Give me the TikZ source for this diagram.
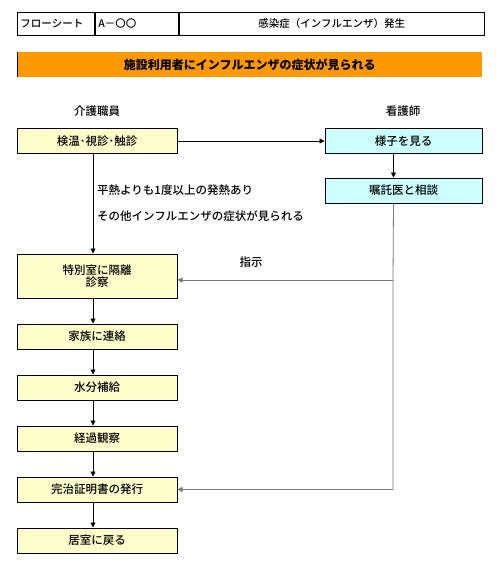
\documentclass[tikz,border=0pt]{standalone}
\usepackage{fontspec}
\setmainfont{Noto Sans CJK JP Medium}
\usetikzlibrary{arrows.meta,positioning}
\definecolor{CareYellow}{RGB}{255,255,204}
\definecolor{NurseCyan}{RGB}{204,255,255}
\definecolor{AlertOrange}{RGB}{255,153,0}
\definecolor{LineGray}{RGB}{120,120,120}
\tikzset{
  cell/.style={draw=black, line width=0.9pt, minimum height=23pt, inner xsep=3pt,
               font=\fontsize{10.5pt}{13pt}\selectfont},
  care/.style={draw=black, fill=CareYellow, line width=1pt, minimum width=160pt,
               minimum height=25pt, align=center, font=\fontsize{11.5pt}{13pt}\selectfont},
  nurse/.style={care, fill=NurseCyan, minimum width=157pt},
  lbl/.style={font=\fontsize{11.5pt}{13pt}\selectfont, inner sep=0pt},
  arr/.style={-{Triangle[length=5pt,width=5pt]}, line width=0.8pt},
  garr/.style={arr, draw=LineGray}
}

\begin{document}
\begin{tikzpicture}[x=1pt,y=-1pt]
\useasboundingbox (0,0) rectangle (500,565);
% header table
\node[cell, text width=71pt, align=left, anchor=north west] (sheet) at (17,12) {フローシート};
\node[cell, text width=77pt, align=left, anchor=north west] (code) at (sheet.north east) {A－〇〇};
\node[cell, text width=299pt, align=center, anchor=north west] (title) at (code.north east) {感染症（インフルエンザ）発生};
% trigger bar
\node[fill=AlertOrange, minimum width=465pt, minimum height=25pt, anchor=north west,
      font=\fontsize{12pt}{14pt}\selectfont\bfseries] (alert) at (17,52) {施設利用者にインフルエンザの症状が見られる};
\draw[line width=1pt] (alert.north west) -- (alert.south west);
% lanes
\node[lbl] (staff) at (97,111) {介護職員};
\node[lbl] (nurses) at (403,111) {看護師};
% care staff side
\node[care] (check) at (97,141) {検温･視診･触診};
\node[care, minimum height=44pt] (isolate) at (97,276) {特別室に隔離\\[-1pt]診察};
\node[care, below=25pt of isolate] (family) {家族に連絡};
\node[care, below=25pt of family] (water) {水分補給};
\node[care, below=25pt of water] (observe) {経過観察};
\node[care, below=25pt of observe] (cert) {完治証明書の発行};
\node[care, below=25pt of cert] (home) {居室に戻る};
% nurse side
\node[nurse] (watch) at (403.5,141) {様子を見る};
\node[nurse] (consult) at (403.5,190.5) {嘱託医と相談};
% conditions
\node[lbl, anchor=west] (fever) at (97,190) {平熱よりも1度以上の発熱あり};
\node[lbl, anchor=west] (other) at (97,216) {その他インフルエンザの症状が見られる};
\node[lbl] (order) at (251,262) {指示};
% connectors
\draw[arr] (check) -- (watch);
\draw[arr] ([xshift=-10pt]watch.south) -- ([xshift=-10pt]consult.north);
\draw[arr] ([xshift=-4pt]check.south) -- ([xshift=-4pt]isolate.north);
\draw[arr] ([xshift=-4pt]isolate.south) -- ([xshift=-4pt]family.north);
\draw[arr] ([xshift=-4pt]family.south) -- ([xshift=-4pt]water.north);
\draw[arr] ([xshift=-4pt]water.south) -- ([xshift=-4pt]observe.north);
\draw[arr] ([xshift=-4pt]observe.south) -- ([xshift=-4pt]cert.north);
\draw[arr] ([xshift=-4pt]cert.south) -- ([xshift=-4pt]home.north);
\coordinate (branch) at (393,280);
\draw[line width=0.8pt, LineGray] ([xshift=-10pt]consult.south) -- (branch) -- (branch |- cert.east);
\draw[garr] (branch) -- (isolate.east |- branch);
\draw[garr] (branch |- cert.east) -- (cert.east);
\end{tikzpicture}
\end{document}
